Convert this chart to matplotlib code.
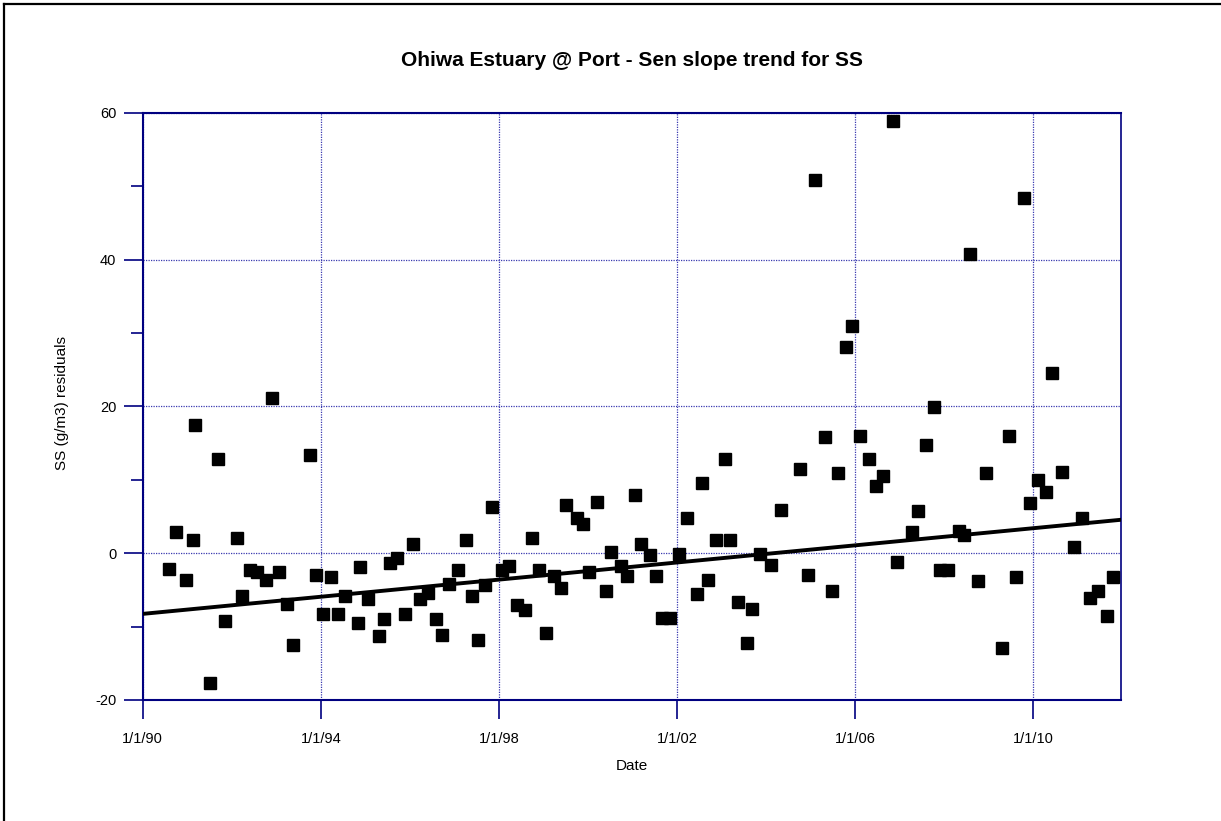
import matplotlib
matplotlib.use("Agg")
import matplotlib.pyplot as plt
from matplotlib.lines import Line2D
from matplotlib.ticker import MultipleLocator, FixedLocator

plt.rcParams['font.family'] = ['Liberation Sans', 'DejaVu Sans']
plt.rcParams['axes.unicode_minus'] = False

# Sample dates (decimal years) and SS residuals (g/m3)
dates = [
    1990.60, 1990.75, 1990.97, 1991.12, 1991.18, 1991.50, 1991.68, 1991.85,
    1992.11, 1992.24, 1992.41, 1992.56, 1992.76, 1992.90, 1993.06, 1993.23,
    1993.37, 1993.75, 1993.90, 1994.04, 1994.22, 1994.39, 1994.54, 1994.83,
    1994.89, 1995.06, 1995.30, 1995.42, 1995.56, 1995.72, 1995.88, 1996.06,
    1996.23, 1996.41, 1996.59, 1996.73, 1996.87, 1997.08, 1997.26, 1997.40,
    1997.52, 1997.69, 1997.84, 1998.07, 1998.22, 1998.40, 1998.58, 1998.75,
    1998.89, 1999.06, 1999.24, 1999.39, 1999.50, 1999.76, 1999.89, 2000.03,
    2000.20, 2000.41, 2000.52, 2000.73, 2000.88, 2001.06, 2001.20, 2001.40,
    2001.52, 2001.66, 2001.85, 2002.04, 2002.22, 2002.45, 2002.55, 2002.69,
    2002.87, 2003.07, 2003.19, 2003.36, 2003.57, 2003.68, 2003.86, 2004.12,
    2004.34, 2004.77, 2004.94, 2005.09, 2005.32, 2005.49, 2005.61, 2005.79,
    2005.93, 2006.10, 2006.31, 2006.46, 2006.63, 2006.84, 2006.95, 2007.28,
    2007.42, 2007.59, 2007.77, 2007.90, 2008.09, 2008.33, 2008.44, 2008.59,
    2008.76, 2008.94, 2009.29, 2009.46, 2009.61, 2009.79, 2009.93, 2010.10,
    2010.28, 2010.43, 2010.64, 2010.92, 2011.10, 2011.28, 2011.45, 2011.65,
    2011.80,
]
residuals = [
    -2.1, 2.9, -3.6, 1.8, 17.5, -17.7, 12.8, -9.2,
    2.0, -5.8, -2.3, -2.6, -3.6, 21.2, -2.6, -6.9,
    -12.5, 13.4, -3.0, -8.3, -3.3, -8.3, -5.8, -9.5,
    -1.9, -6.3, -11.3, -8.9, -1.3, -0.7, -8.3, 1.3,
    -6.3, -5.4, -9.0, -11.1, -4.2, -2.3, 1.8, -5.8,
    -11.8, -4.4, 6.3, -2.3, -1.7, -7.1, -7.7, 2.0,
    -2.3, -10.9, -3.1, -4.7, 6.6, 4.8, 4.0, -2.6,
    7.0, -5.1, 0.1, -1.7, -3.1, 7.9, 1.3, -0.3,
    -3.1, -8.8, -8.8, -0.1, 4.8, -5.6, 9.5, -3.7,
    1.8, 12.8, 1.8, -6.7, -12.2, -7.6, -0.1, -1.6,
    5.9, 11.4, -3.0, 50.9, 15.8, -5.1, 10.9, 28.1,
    30.9, 16.0, 12.8, 9.1, 10.5, 58.9, -1.2, 2.9,
    5.7, 14.8, 19.9, -2.3, -2.3, 3.0, 2.5, 40.8,
    -3.8, 10.9, -12.9, 16.0, -3.3, 48.4, 6.8, 10.0,
    8.4, 24.5, 11.0, 0.9, 4.8, -6.1, -5.1, -8.6,
    -3.3,
]

# Sen slope trend line, evaluated at the ends of the date range
trend_years = [1990.0, 2011.97]
trend_values = [-8.27, 4.55]

tick_years = [1990, 1994, 1998, 2002, 2006, 2010]
tick_labels = ['1/1/90', '1/1/94', '1/1/98', '1/1/02', '1/1/06', '1/1/10']

navy = '#000080'
grid_color = '#3a3ab0'

fig = plt.figure(figsize=(12.21, 8.21), dpi=100)
ax = fig.add_axes([0.1169, 0.1474, 0.8012, 0.7153])

ax.plot(dates, residuals, linestyle='none', marker='s', markersize=9.3,
        markeredgewidth=1.0, color='black', zorder=3)
ax.plot(trend_years, trend_values, color='black', linewidth=2.8, zorder=4)

ax.set_xlim(1990.0, 2011.97)
ax.set_ylim(-20, 60)

ax.xaxis.set_major_locator(FixedLocator(tick_years))
ax.set_xticklabels(tick_labels)
ax.yaxis.set_major_locator(MultipleLocator(20))
ax.yaxis.set_minor_locator(MultipleLocator(10))

ax.tick_params(axis='both', which='major', direction='out', length=14,
               width=1.2, color=navy, labelsize=10.5, labelcolor='black')
ax.tick_params(axis='y', which='minor', direction='out', length=8.5,
               width=1.2, color=navy)
ax.tick_params(axis='x', which='major', pad=9)
ax.tick_params(axis='y', which='major', pad=5)

for side in ['left', 'bottom', 'top', 'right']:
    ax.spines[side].set_color(navy)
ax.spines['left'].set_linewidth(1.5)
ax.spines['bottom'].set_linewidth(1.5)
ax.spines['top'].set_linewidth(1.5)
ax.spines['right'].set_linewidth(1.2)

ax.grid(True, which='major', linestyle=(0, (1, 1)), linewidth=0.9,
        color=grid_color)
ax.set_axisbelow(True)

fig.text(0.5175, 1 - 61 / 821, 'Ohiwa Estuary @ Port - Sen slope trend for SS',
         fontsize=15, fontweight='bold', ha='center', va='center')
fig.text(0.5175, 1 - 766 / 821, 'Date', fontsize=11, ha='center', va='center')
fig.text(62 / 1221, 1 - 403 / 821, 'SS (g/m3) residuals', fontsize=11,
         rotation=90, ha='center', va='center')

# Frame lines along the left and top edges of the figure
fig.add_artist(Line2D([4 / 1221, 4 / 1221], [0, 1 - 4 / 821],
                      transform=fig.transFigure, color='black', linewidth=1.6))
fig.add_artist(Line2D([4 / 1221, 1], [1 - 4 / 821, 1 - 4 / 821],
                      transform=fig.transFigure, color='black', linewidth=1.6))

fig.savefig('out.png', dpi=100)
